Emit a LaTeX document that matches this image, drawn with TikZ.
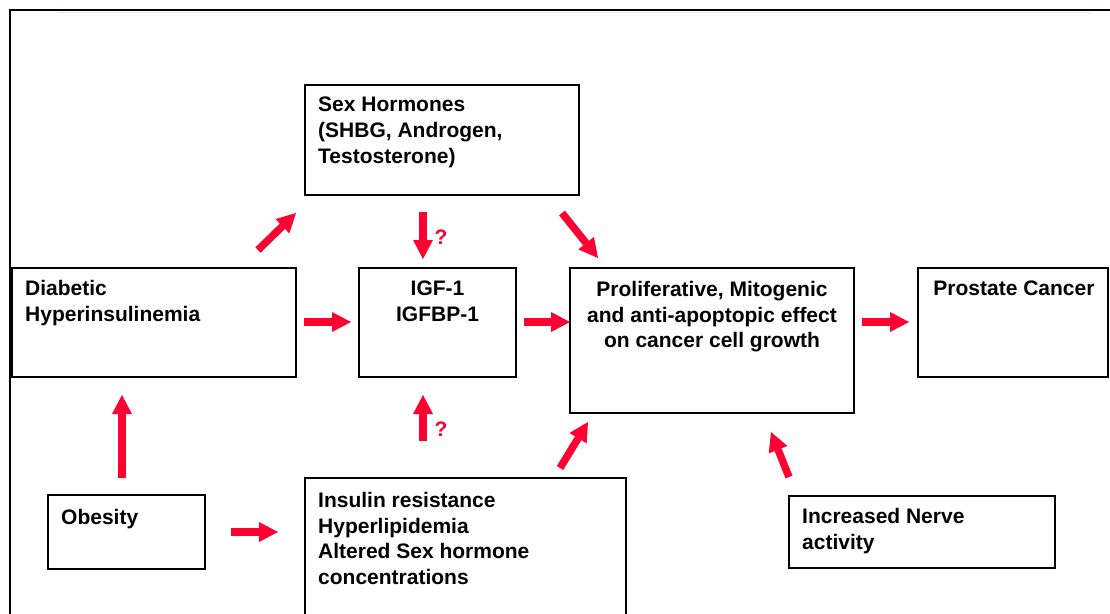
\documentclass[tikz,border=0pt]{standalone}
\usepackage{fontspec}
\setmainfont{Liberation Sans}
\usetikzlibrary{arrows.meta,calc}
\definecolor{arrowred}{RGB}{255,0,51}
\definecolor{faintcyan}{RGB}{200,246,246}
\tikzset{
  box/.style={draw=black, line width=2pt, rectangle, inner sep=0pt, outer sep=0pt, anchor=north west},
  boxtext/.style={inner sep=0pt, font=\fontsize{21}{25.7}\selectfont\bfseries},
  bigarrow/.style={draw=arrowred, line width=7.5pt, -{Triangle[width=20pt,length=19pt,line width=0pt]}},
  qmark/.style={text=arrowred, inner sep=0pt, font=\fontsize{21}{22}\selectfont\bfseries}
}
\begin{document}
\begin{tikzpicture}[x=1pt,y=-1pt]
\useasboundingbox (0,0) rectangle (1110,613);
\clip (0,0) rectangle (1110,613);
\fill[white] (0,0) rectangle (1110,613);
% outer frame
\draw[line width=2.6pt] (10,700) -- (10,10) -- (1200,10);
\draw[faintcyan, line width=1.5pt] (58,12.5) -- (1092,12.5);
% boxes
\node[box, minimum width=274pt, minimum height=110pt] (sex) at (305,85) {};
\node[box, minimum width=284pt, minimum height=109pt] (diab) at (12,268) {};
\node[box, minimum width=157pt, minimum height=109pt] (igf) at (359,268) {};
\node[box, minimum width=284pt, minimum height=145pt] (prolif) at (570,268) {};
\node[box, minimum width=190pt, minimum height=109pt] (prost) at (918,268) {};
\node[box, minimum width=157pt, minimum height=74pt] (obes) at (48,495) {};
\node[box, minimum width=321pt, minimum height=200pt] (ins) at (305,478) {};
\node[box, minimum width=266pt, minimum height=72pt] (nerve) at (789,496) {};
% texts
\node[boxtext, anchor=north west, align=left] (sext) at ($(sex.north west)+(13,12)$) {Sex Hormones\\(SHBG, Androgen,\\Testosterone)};
\node[boxtext, anchor=north west, align=left] (diabt) at ($(diab.north west)+(13,12)$) {Diabetic\\Hyperinsulinemia};
\node[boxtext, anchor=north, align=center] (igft) at ($(igf.north)+(0,13)$) {IGF-1\\IGFBP-1};
\node[boxtext, anchor=north, align=center] (prolift) at ($(prolif.north)+(0,13)$) {Proliferative, Mitogenic\\and anti-apoptopic effect\\on cancer cell growth};
\node[boxtext, anchor=north, align=center] (prostt) at ($(prost.north)+(1,13)$) {Prostate Cancer};
\node[boxtext, anchor=north west, align=left] (obest) at ($(obes.north west)+(13,14)$) {Obesity};
\node[boxtext, anchor=north west, align=left] (inst) at ($(ins.north west)+(13,14)$) {Insulin resistance\\Hyperlipidemia\\Altered Sex hormone\\concentrations};
\node[boxtext, anchor=north west, align=left] (nervet) at ($(nerve.north west)+(13,12)$) {Increased Nerve\\activity};
% arrows
\draw[bigarrow] ($(diab.north east)+(-38,-18)$) -- ($(sex.south west)+(-9,18)$);
\draw[bigarrow] ($(sex.south west)+(118,17)$) -- ($(igf.north west)+(64,-9)$);
\draw[bigarrow] ($(sex.south east)+(-17,18)$) -- ($(prolif.north west)+(28,-10)$);
\draw[bigarrow] ($(diab.north east)+(8,54)$) -- ($(igf.north west)+(-8,54)$);
\draw[bigarrow] ($(igf.north east)+(8,54)$) -- ($(prolif.north west)+(0,54)$);
\draw[bigarrow] ($(prolif.north east)+(8,54)$) -- ($(prost.north west)+(-9,54)$);
\draw[bigarrow] ($(obes.north west)+(74,-17)$) -- ($(diab.south west)+(110,18)$);
\draw[bigarrow] ($(obes.north east)+(26,37)$) -- ($(ins.north west)+(-27,54)$);
\draw[bigarrow] ($(ins.north west)+(118,-37)$) -- ($(igf.south west)+(64,18)$);
\draw[bigarrow] ($(ins.north east)+(-66,-10)$) -- ($(prolif.south west)+(18,9)$);
\draw[bigarrow] ($(nerve.north west)+(0,-19)$) -- ($(prolif.south west)+(201,19)$);
% question marks
\node[qmark] (q1) at ($(igf.north west)+(82,-31)$) {?};
\node[qmark] (q2) at ($(igf.south west)+(82,52)$) {?};
\end{tikzpicture}
\end{document}
